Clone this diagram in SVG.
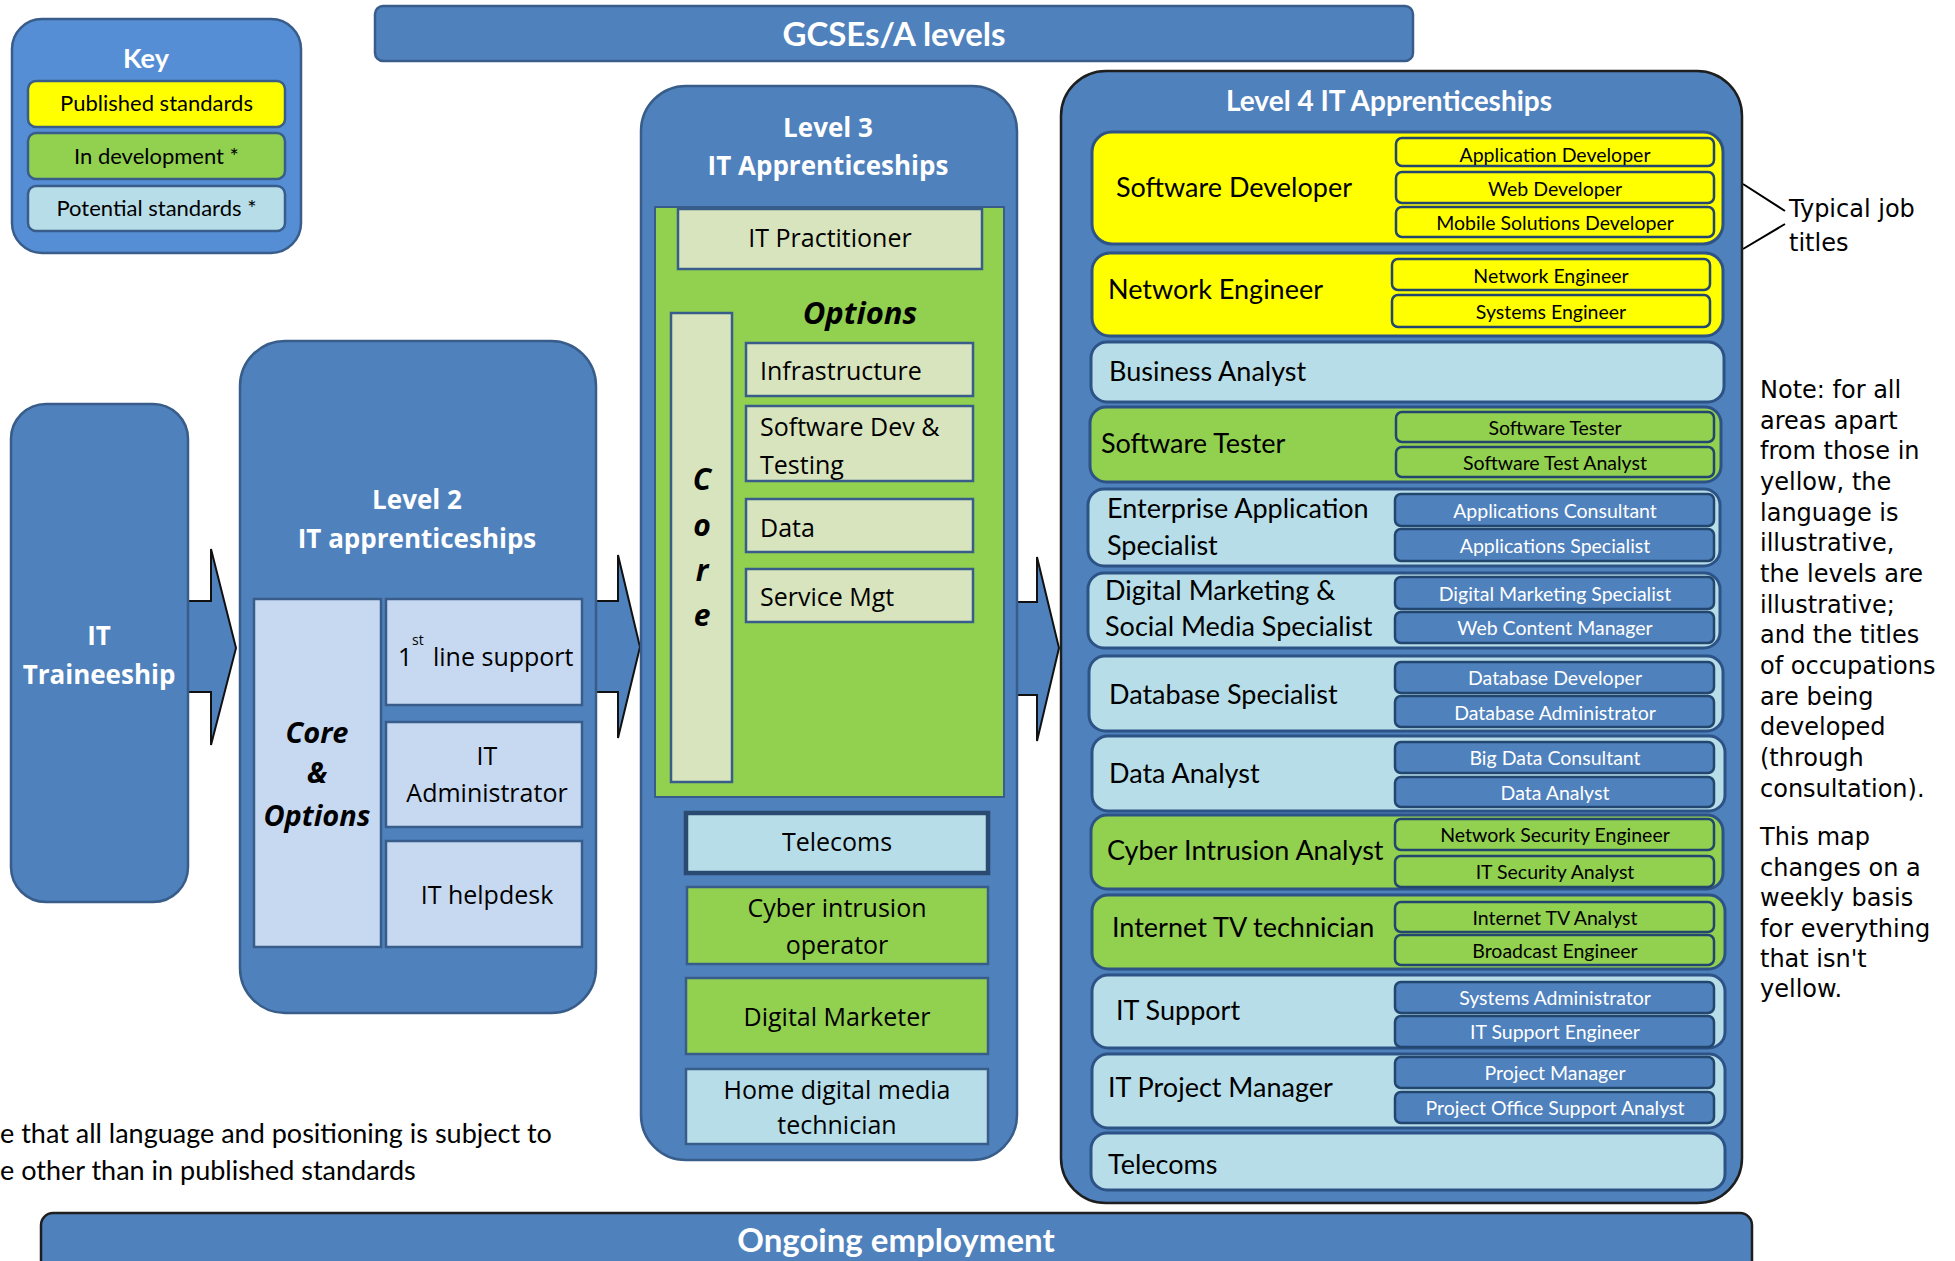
<svg xmlns="http://www.w3.org/2000/svg" width="1955" height="1261" viewBox="0 0 1955 1261">
<style>
.bg{fill:#4F81BD;stroke:#385D8A;stroke-width:2.5}
.bk{fill:#4F81BD;stroke:#1E1E1E;stroke-width:2.5}
.arr{fill:#4F81BD;stroke:#111;stroke-width:2;stroke-linejoin:miter}
.cal{font-family:Lato,"Liberation Sans",sans-serif}
.seg{font-family:"Open Sans","Liberation Sans",sans-serif}
.ver{font-family:"DejaVu Sans",Verdana,sans-serif;font-size:24px;fill:#000}
.wt{fill:#fff;font-weight:bold}
.ky{fill:#FFFF00}.gr{fill:#92D050}.lb{fill:#B7DEE8}.pl{fill:#D7E4BD}.l2{fill:#C6D9F1}
.row{stroke:#2C5286;stroke-width:3}
.sub{stroke:#23466F;stroke-width:2.5}
.sb{fill:#4F81BD}
.box{stroke:#385D8A;stroke-width:2.5}
.rt{font-size:27px;fill:#000}
.st{font-size:19.5px;text-anchor:middle}
.stb{fill:#000}.stw{fill:#fff}
.o{font-size:25px;fill:#000}
.c{text-anchor:middle}
.bi{font-weight:bold;font-style:italic}
</style>

<g id="connectors">
<path class="arr" d="M180,601 H211 V549 L236,648 L211,745 V692 H180 Z"/>
<path class="arr" d="M590,601 H618 V555 L640,647 L618,738 V692 H590 Z"/>
<path class="arr" d="M1010,602 H1037 V557 L1059,648 L1037,741 V695 H1010 Z"/>
<path d="M1743,184 L1785,211 M1785,224 L1743,249" stroke="#000" stroke-width="2" fill="none"/>
</g>

<g id="key">
<rect x="12" y="19" width="289" height="234" rx="30" fill="#558ED5" stroke="#385D8A" stroke-width="2.5"/>
<text class="cal wt c" x="146" y="68" font-size="27">Key</text>
<rect class="ky box" x="28" y="81" width="257" height="46" rx="8"/>
<text class="cal c" x="156.5" y="111" font-size="22">Published standards</text>
<rect class="gr box" x="28" y="133" width="257" height="46" rx="8"/>
<text class="cal c" x="156.5" y="164" font-size="22">In development *</text>
<rect class="lb box" x="28" y="186" width="257" height="45" rx="8"/>
<text class="cal c" x="156.5" y="216" font-size="22">Potential standards *</text>
</g>

<g id="gcse">
<rect class="bg" x="375" y="6" width="1038" height="55" rx="8"/>
<text class="cal wt c" x="894" y="46" font-size="33">GCSEs/A levels</text>
</g>

<g id="traineeship">
<rect class="bg" x="11" y="404" width="177" height="498" rx="35"/>
<text class="seg wt c" x="99" y="645" font-size="26">IT</text>
<text class="seg wt c" x="99" y="684" font-size="26">Traineeship</text>
</g>

<g id="level2">
<rect class="bg" x="240" y="341" width="356" height="672" rx="45"/>
<text class="seg wt c" x="417" y="509" font-size="26">Level 2</text>
<text class="seg wt c" x="417" y="548" font-size="26">IT apprenticeships</text>
<rect class="l2 box" x="254" y="599" width="127" height="348"/>
<text class="seg bi c" x="317" y="743" font-size="29">Core</text>
<text class="seg bi c" x="317" y="783" font-size="29">&amp;</text>
<text class="seg bi c" x="317" y="826" font-size="29">Options</text>
<rect class="l2 box" x="386" y="599" width="196" height="106"/>
<text class="seg o" x="398" y="666">1</text>
<text class="seg" x="412" y="645" font-size="14">st</text>
<text class="seg o" x="433" y="666">line support</text>
<rect class="l2 box" x="386" y="722" width="196" height="105"/>
<text class="seg o c" x="487" y="765">IT</text>
<text class="seg o c" x="487" y="802">Administrator</text>
<rect class="l2 box" x="386" y="841" width="196" height="106"/>
<text class="seg o c" x="487" y="904">IT helpdesk</text>
</g>

<g id="level3">
<rect class="bg" x="641" y="86" width="376" height="1074" rx="45"/>
<text class="seg wt c" x="828" y="137" font-size="26">Level 3</text>
<text class="seg wt c" x="828" y="175" font-size="26">IT Apprenticeships</text>
<rect class="gr" x="655" y="207" width="349" height="590" stroke="#385D8A" stroke-width="2"/>
<rect class="pl box" x="678" y="209" width="304" height="60"/>
<text class="seg o c" x="830" y="247">IT Practitioner</text>
<text class="seg bi c" x="860" y="324" font-size="31">Options</text>
<rect class="pl box" x="671" y="313" width="61" height="469"/>
<text class="seg bi c" x="702" y="490" font-size="30">C</text>
<text class="seg bi c" x="702" y="536" font-size="30">o</text>
<text class="seg bi c" x="702" y="581" font-size="30">r</text>
<text class="seg bi c" x="702" y="626" font-size="30">e</text>
<rect class="pl box" x="746" y="343" width="227" height="53"/>
<text class="seg o" x="760" y="380">Infrastructure</text>
<rect class="pl box" x="746" y="406" width="227" height="75"/>
<text class="seg o" x="760" y="436">Software Dev &amp;</text>
<text class="seg o" x="760" y="474">Testing</text>
<rect class="pl box" x="746" y="499" width="227" height="53"/>
<text class="seg o" x="760" y="537">Data</text>
<rect class="pl box" x="746" y="569" width="227" height="53"/>
<text class="seg o" x="760" y="606">Service Mgt</text>
<rect class="lb" x="686" y="813" width="302" height="60" stroke="#2A4A72" stroke-width="4.5"/>
<text class="seg o c" x="837" y="851">Telecoms</text>
<rect class="gr box" x="687" y="887" width="301" height="77"/>
<text class="seg o c" x="837" y="917">Cyber intrusion</text>
<text class="seg o c" x="837" y="954">operator</text>
<rect class="gr box" x="686" y="978" width="302" height="76"/>
<text class="seg o c" x="837" y="1026">Digital Marketer</text>
<rect class="lb box" x="686" y="1069" width="302" height="75"/>
<text class="seg o c" x="837" y="1099">Home digital media</text>
<text class="seg o c" x="837" y="1134">technician</text>
</g>

<g id="level4">
<rect class="bk" x="1061" y="71" width="681" height="1132" rx="45"/>
<text class="cal wt c" x="1389" y="111" font-size="28">Level 4 IT Apprenticeships</text>
</g>

<g id="l4-software-developer" class="cal">
<rect class="ky row" x="1092" y="132" width="631" height="112" rx="20"/>
<rect class="ky sub" x="1396" y="138" width="318" height="28" rx="6"/>
<text class="st stb" x="1555" y="162">Application Developer</text>
<rect class="ky sub" x="1396" y="172" width="318" height="31" rx="6"/>
<text class="st stb" x="1555" y="196">Web Developer</text>
<rect class="ky sub" x="1396" y="207" width="318" height="30" rx="6"/>
<text class="st stb" x="1555" y="230">Mobile Solutions Developer</text>
<text class="rt" x="1116" y="197">Software Developer</text>
</g>

<g id="l4-network-engineer" class="cal">
<rect class="ky row" x="1092" y="253" width="631" height="83" rx="18"/>
<rect class="ky sub" x="1392" y="259" width="318" height="31" rx="6"/>
<text class="st stb" x="1551" y="283">Network Engineer</text>
<rect class="ky sub" x="1392" y="295" width="318" height="32" rx="6"/>
<text class="st stb" x="1551" y="319">Systems Engineer</text>
<text class="rt" x="1108" y="299">Network Engineer</text>
</g>

<g id="l4-business-analyst" class="cal">
<rect class="lb row" x="1091" y="342" width="633" height="60" rx="16"/>
<text class="rt" x="1109" y="381">Business Analyst</text>
</g>

<g id="l4-software-tester" class="cal">
<rect class="gr row" x="1090" y="407" width="631" height="75" rx="16"/>
<rect class="gr sub" x="1396" y="412" width="318" height="30" rx="6"/>
<text class="st stb" x="1555" y="435">Software Tester</text>
<rect class="gr sub" x="1396" y="447" width="318" height="30" rx="6"/>
<text class="st stb" x="1555" y="470">Software Test Analyst</text>
<text class="rt" x="1101" y="453">Software Tester</text>
</g>

<g id="l4-enterprise" class="cal">
<rect class="lb row" x="1088" y="489" width="632" height="77" rx="16"/>
<rect class="sb sub" x="1395" y="494" width="319" height="32" rx="6"/>
<text class="st stw" x="1555" y="518">Applications Consultant</text>
<rect class="sb sub" x="1395" y="529" width="319" height="32" rx="6"/>
<text class="st stw" x="1555" y="553">Applications Specialist</text>
<text class="rt" x="1107" y="518">Enterprise Application</text>
<text class="rt" x="1107" y="555">Specialist</text>
</g>

<g id="l4-digital-marketing" class="cal">
<rect class="lb row" x="1088" y="573" width="632" height="75" rx="16"/>
<rect class="sb sub" x="1395" y="577" width="319" height="32" rx="6"/>
<text class="st stw" x="1555" y="601">Digital Marketing Specialist</text>
<rect class="sb sub" x="1395" y="612" width="319" height="31" rx="6"/>
<text class="st stw" x="1555" y="635">Web Content Manager</text>
<text class="rt" x="1105" y="600">Digital Marketing &amp;</text>
<text class="rt" x="1105" y="636">Social Media Specialist</text>
</g>

<g id="l4-database" class="cal">
<rect class="lb row" x="1089" y="656" width="634" height="75" rx="16"/>
<rect class="sb sub" x="1395" y="662" width="319" height="31" rx="6"/>
<text class="st stw" x="1555" y="685">Database Developer</text>
<rect class="sb sub" x="1395" y="696" width="319" height="31" rx="6"/>
<text class="st stw" x="1555" y="720">Database Administrator</text>
<text class="rt" x="1109" y="704">Database Specialist</text>
</g>

<g id="l4-data-analyst" class="cal">
<rect class="lb row" x="1092" y="736" width="633" height="75" rx="16"/>
<rect class="sb sub" x="1395" y="742" width="319" height="31" rx="6"/>
<text class="st stw" x="1555" y="765">Big Data Consultant</text>
<rect class="sb sub" x="1395" y="777" width="319" height="30" rx="6"/>
<text class="st stw" x="1555" y="800">Data Analyst</text>
<text class="rt" x="1109" y="783">Data Analyst</text>
</g>

<g id="l4-cyber" class="cal">
<rect class="gr row" x="1091" y="815" width="632" height="74" rx="16"/>
<rect class="gr sub" x="1395" y="819" width="319" height="31" rx="6"/>
<text class="st stb" x="1555" y="842">Network Security Engineer</text>
<rect class="gr sub" x="1395" y="856" width="319" height="31" rx="6"/>
<text class="st stb" x="1555" y="879">IT Security Analyst</text>
<text class="rt" x="1107" y="860">Cyber Intrusion Analyst</text>
</g>

<g id="l4-internet-tv" class="cal">
<rect class="gr row" x="1092" y="895" width="633" height="74" rx="16"/>
<rect class="gr sub" x="1395" y="902" width="319" height="30" rx="6"/>
<text class="st stb" x="1555" y="925">Internet TV Analyst</text>
<rect class="gr sub" x="1395" y="935" width="319" height="30" rx="6"/>
<text class="st stb" x="1555" y="958">Broadcast Engineer</text>
<text class="rt" x="1112" y="937">Internet TV technician</text>
</g>

<g id="l4-it-support" class="cal">
<rect class="lb row" x="1092" y="975" width="633" height="73" rx="16"/>
<rect class="sb sub" x="1395" y="982" width="319" height="31" rx="6"/>
<text class="st stw" x="1555" y="1005">Systems Administrator</text>
<rect class="sb sub" x="1395" y="1016" width="319" height="31" rx="6"/>
<text class="st stw" x="1555" y="1039">IT Support Engineer</text>
<text class="rt" x="1116" y="1020">IT Support</text>
</g>

<g id="l4-project-manager" class="cal">
<rect class="lb row" x="1092" y="1054" width="633" height="74" rx="16"/>
<rect class="sb sub" x="1395" y="1057" width="319" height="31" rx="6"/>
<text class="st stw" x="1555" y="1080">Project Manager</text>
<rect class="sb sub" x="1395" y="1092" width="319" height="31" rx="6"/>
<text class="st stw" x="1555" y="1115">Project Office Support Analyst</text>
<text class="rt" x="1108" y="1097">IT Project Manager</text>
</g>

<g id="l4-telecoms" class="cal">
<rect class="lb row" x="1091" y="1133" width="634" height="57" rx="16"/>
<text class="rt" x="1108" y="1174">Telecoms</text>
</g>

<g id="ongoing">
<rect x="41" y="1213" width="1711" height="70" rx="12" fill="#4F81BD" stroke="#1E1E1E" stroke-width="2.5"/>
<text class="cal wt c" x="896" y="1252" font-size="33">Ongoing employment</text>
</g>

<g id="notes">
<text class="cal" x="0" y="1143" font-size="27">e that all language and positioning is subject to</text>
<text class="cal" x="0" y="1180" font-size="27">e other than in published standards</text>
<text class="ver" x="1789" y="217" font-size="26">Typical job</text>
<text class="ver" x="1789" y="251" font-size="26">titles</text>
<text class="ver" x="1760" y="398">Note: for all</text>
<text class="ver" x="1760" y="429">areas apart</text>
<text class="ver" x="1760" y="459">from those in</text>
<text class="ver" x="1760" y="490">yellow, the</text>
<text class="ver" x="1760" y="521">language is</text>
<text class="ver" x="1760" y="551">illustrative,</text>
<text class="ver" x="1760" y="582">the levels are</text>
<text class="ver" x="1760" y="613">illustrative;</text>
<text class="ver" x="1760" y="643">and the titles</text>
<text class="ver" x="1760" y="674">of occupations</text>
<text class="ver" x="1760" y="705">are being</text>
<text class="ver" x="1760" y="735">developed</text>
<text class="ver" x="1760" y="766">(through</text>
<text class="ver" x="1760" y="797">consultation).</text>
<text class="ver" x="1760" y="845">This map</text>
<text class="ver" x="1760" y="876">changes on a</text>
<text class="ver" x="1760" y="906">weekly basis</text>
<text class="ver" x="1760" y="937">for everything</text>
<text class="ver" x="1760" y="967">that isn't</text>
<text class="ver" x="1760" y="997">yellow.</text>
</g>
</svg>
